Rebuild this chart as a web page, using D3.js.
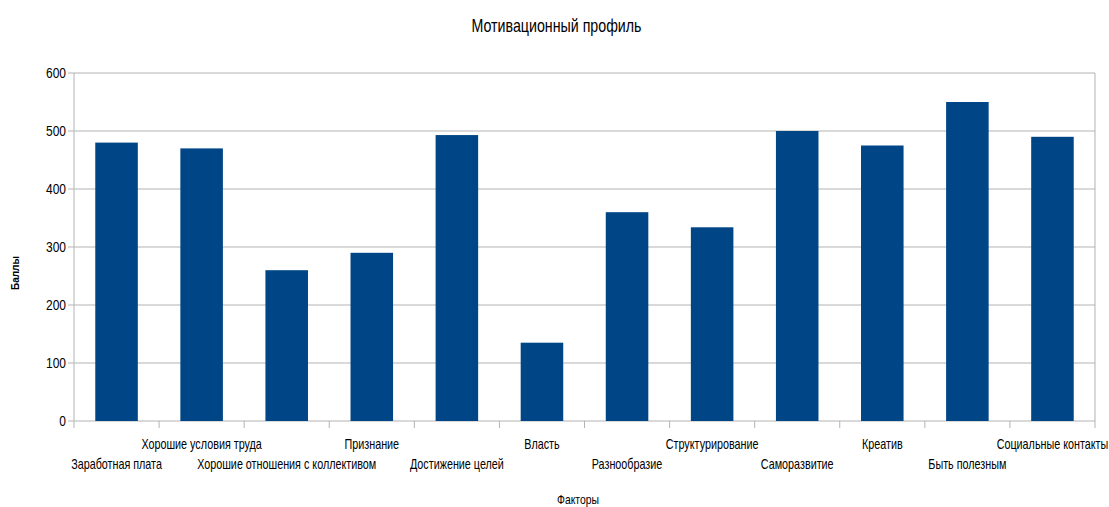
<!DOCTYPE html>
<html>
<head>
<meta charset="utf-8">
<script src="https://cdn.jsdelivr.net/npm/d3@7"></script>
<style>
  body { margin: 0; background: #fff; }
  text { font-family: "Liberation Sans Narrow", "Liberation Sans", Arial, sans-serif; fill: #000; }
  .grid line { stroke: #b3b3b3; }
</style>
</head>
<body>
<div id="chart"></div>
<script>
// Мотивационный профиль
const factors = [
  "Заработная плата", "Хорошие условия труда", "Хорошие отношения с коллективом",
  "Признание", "Достижение целей", "Власть", "Разнообразие", "Структурирование",
  "Саморазвитие", "Креатив", "Быть полезным", "Социальные контакты"
];
const scores = [480, 470, 260, 290, 493, 135, 360, 334, 500, 475, 550, 490];
const yTicks = [0, 100, 200, 300, 400, 500, 600];

const width = 1109, height = 507;
const margin = { top: 73, right: 14, bottom: 86, left: 74 };
const plot_width = width - margin.left - margin.right;
const plot_height = height - margin.top - margin.bottom;

const canvas = d3.select("#chart").append("svg")
  .attr("width", width).attr("height", height);

const plot = canvas.append("g")
  .attr("transform", `translate(${margin.left},${margin.top})`);

// text squeezed horizontally around its anchor point (condensed look of the original font)
function label(parent, x, y, str, size, anchor, squeeze) {
  return parent.append("text")
    .attr("transform", `translate(${x},${y}) scale(${squeeze || 0.8},1)`)
    .attr("text-anchor", anchor || "middle")
    .style("font-size", size + "px")
    .text(str);
}

const xScale = d3.scaleBand().domain(factors).range([0, plot_width]).paddingInner(0.5).paddingOuter(0.25);
const bandStep = plot_width / factors.length;
const yScale = d3.scaleLinear().domain([0, 600]).range([plot_height, 0]);

// gridlines + left ticks
plot.append("g").attr("class", "grid")
  .selectAll("line").data(yTicks).join("line")
  .attr("x1", -6).attr("x2", plot_width)
  .attr("y1", d => yScale(d)).attr("y2", d => yScale(d));

// frame: left axis line and right edge
plot.append("line").attr("x1", 0).attr("x2", 0).attr("y1", 0).attr("y2", plot_height + 7)
  .style("stroke", "#b3b3b3");
plot.append("line").attr("x1", plot_width).attr("x2", plot_width).attr("y1", 0).attr("y2", plot_height + 7)
  .style("stroke", "#b3b3b3");

// category boundary ticks
d3.range(1, factors.length).forEach(i => {
  plot.append("line")
    .attr("x1", i * bandStep).attr("x2", i * bandStep)
    .attr("y1", plot_height).attr("y2", plot_height + 7)
    .style("stroke", "#b3b3b3");
});

// y tick labels
yTicks.forEach(t => label(plot, -8, yScale(t) + 5, t, 15, "end", 0.8));

// bars
plot.selectAll(".bar").data(factors).join("rect")
  .attr("class", "bar")
  .attr("x", d => xScale(d))
  .attr("width", xScale.bandwidth())
  .attr("y", (d, i) => yScale(scores[i]))
  .attr("height", (d, i) => plot_height - yScale(scores[i]))
  .style("fill", "#004586");

// category labels, staggered in two rows
factors.forEach((f, i) => {
  label(plot, xScale(f) + xScale.bandwidth() / 2, plot_height + (i % 2 === 0 ? 48 : 28), f, 14, "middle", 0.77);
});

// title
label(canvas, width / 2 + 2, 32, "Мотивационный профиль", 18, "middle", 0.79);

// axis titles
label(canvas, 578, 504, "Факторы", 13, "middle", 0.8);

canvas.append("text")
  .attr("transform", "translate(19,273) rotate(-90)")
  .attr("text-anchor", "middle")
  .style("font-size", "10px")
  .style("font-weight", "bold")
  .text("Баллы");
</script>
</body>
</html>
